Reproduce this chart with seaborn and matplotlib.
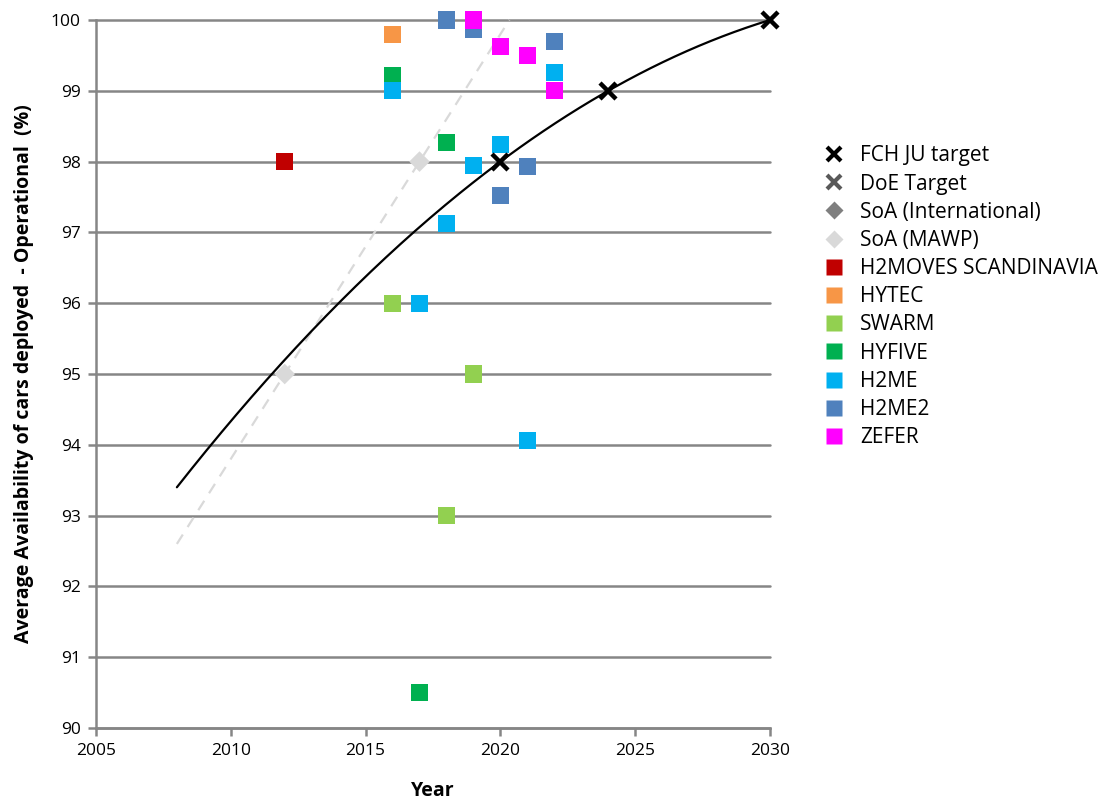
import numpy as np
import pandas as pd
import matplotlib
matplotlib.use("Agg")
import matplotlib.pyplot as plt
from matplotlib.lines import Line2D
import seaborn as sns

# ---------------- data ----------------
fch_years = [2020, 2024, 2030]
fch_values = [98.0, 99.0, 100.0]

mawp_years = [2012, 2017]
mawp_values = [95.0, 98.0]

h2moves_years = [2012]
h2moves_values = [98.0]
hytec_years = [2016]
hytec_values = [99.8]
swarm_years = [2016, 2018, 2019]
swarm_values = [96.0, 93.0, 95.0]
hyfive_years = [2016, 2017, 2018]
hyfive_values = [99.21, 90.5, 98.27]
h2me_years = [2016, 2017, 2018, 2019, 2020, 2021, 2022]
h2me_values = [99.0, 96.0, 97.12, 97.95, 98.24, 94.06, 99.26]
h2me2_years = [2018, 2019, 2020, 2021, 2022]
h2me2_values = [100.0, 99.86, 97.52, 97.93, 99.7]
zefer_years = [2019, 2020, 2021, 2022]
zefer_values = [100.0, 99.63, 99.5, 99.0]

projects = ["H2MOVES SCANDINAVIA", "HYTEC", "SWARM", "HYFIVE", "H2ME", "H2ME2", "ZEFER"]
project_years = [h2moves_years, hytec_years, swarm_years, hyfive_years, h2me_years, h2me2_years, zefer_years]
project_values = [h2moves_values, hytec_values, swarm_values, hyfive_values, h2me_values, h2me2_values, zefer_values]
project_colors = ["#C00000", "#F79646", "#92D050", "#00B050", "#00B0F0", "#4F81BD", "#FF00FF"]

x_ticks = [2005, 2010, 2015, 2020, 2025, 2030]
y_ticks = [90, 91, 92, 93, 94, 95, 96, 97, 98, 99, 100]

# --------------- frame ---------------
rows = []
for p, ys, vs in zip(projects, project_years, project_values):
    for y, v in zip(ys, vs):
        rows.append({"Year": y, "Value": v, "Project": p})
df = pd.DataFrame(rows)

sns.set_theme(style="white")
plt.rcParams["font.family"] = ["Open Sans", "DejaVu Sans"]
plt.rcParams["text.color"] = "black"
plt.rcParams["axes.labelcolor"] = "black"
plt.rcParams["xtick.color"] = "black"
plt.rcParams["ytick.color"] = "black"

fig = plt.figure(figsize=(11.18, 8.01), dpi=100)
ax = fig.add_axes([96/1118, 1 - 728/801, (770-96)/1118, (728-20)/801])

grid_c = "#868686"
for yv in y_ticks:
    ax.axhline(yv, color=grid_c, lw=1.8, zorder=1)

# trendlines
fch_fit = np.polyfit(fch_years, fch_values, 2)
tx = np.linspace(2008, 2030, 200)
sns.lineplot(x=tx, y=np.polyval(fch_fit, tx), color="black", lw=1.6, ax=ax, zorder=3)

mawp_fit = np.polyfit(mawp_years, mawp_values, 1)
x_end = (100 - mawp_fit[1]) / mawp_fit[0]
mx = np.linspace(2008, x_end, 50)
ax.plot(mx, np.polyval(mawp_fit, mx), color="#D9D9D9", lw=1.6, ls=(0, (5, 4)), zorder=2)

# SoA (MAWP) points
sns.scatterplot(x=mawp_years, y=mawp_values, marker="D", s=110, color="#D9D9D9",
                edgecolor="none", ax=ax, zorder=4, legend=False)

# project squares
sns.scatterplot(data=df, x="Year", y="Value", hue="Project", hue_order=projects,
                palette=dict(zip(projects, project_colors)), marker="s", s=150,
                edgecolor="none", ax=ax, zorder=5, legend=False)

# FCH JU target
ax.plot(fch_years, fch_values, ls="none", marker="x", ms=11, mew=3.2, color="black", zorder=6)

for art in ax.collections + ax.lines:
    art.set_clip_on(False)

ax.set_xlim(2005, 2030)
ax.set_ylim(90, 100)
ax.set_xticks(x_ticks)
ax.set_yticks(y_ticks)
ax.set_xticklabels([str(t) for t in x_ticks], fontsize=12.5)
ax.set_yticklabels([str(t) for t in y_ticks], fontsize=12.5)
ax.tick_params(axis="both", which="both", direction="out", length=6, width=1.8,
               color=grid_c, labelcolor="black", left=True, bottom=True, pad=5)
for s in ["top", "right"]:
    ax.spines[s].set_visible(False)
for s in ["left", "bottom"]:
    ax.spines[s].set_color(grid_c)
    ax.spines[s].set_linewidth(1.8)

ax.set_xlabel("Year", fontsize=14, fontweight="bold", labelpad=16, color="black")
ax.set_ylabel("Average Availability of cars deployed  - Operational  (%)",
              fontsize=14, fontweight="bold", labelpad=12, color="black")

# legend
handles = [
    Line2D([], [], ls="none", marker="x", ms=10, mew=3, color="black"),
    Line2D([], [], ls="none", marker="x", ms=10, mew=3, color="#595959"),
    Line2D([], [], ls="none", marker="D", ms=9, color="#7F7F7F", mec="none"),
    Line2D([], [], ls="none", marker="D", ms=9, color="#D9D9D9", mec="none"),
] + [Line2D([], [], ls="none", marker="s", ms=12, color=c, mec="none") for c in project_colors]
labels = ["FCH JU target", "DoE Target", "SoA (International)", "SoA (MAWP)"] + projects
fig.legend(handles, labels, loc="upper left", bbox_to_anchor=(814/1118, 1 - 137/801),
           frameon=False, fontsize=15, handletextpad=0.7, labelspacing=0.345,
           borderaxespad=0, handlelength=1.1, labelcolor="black")

fig.savefig("out.png", dpi=100)
